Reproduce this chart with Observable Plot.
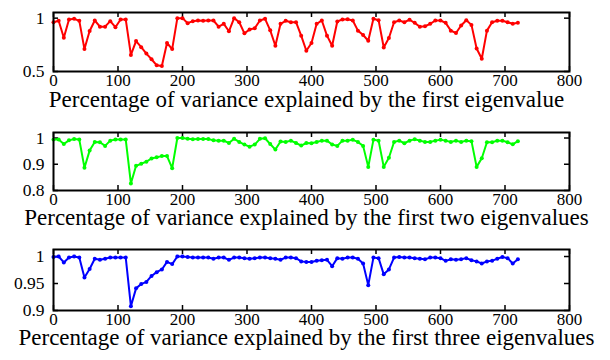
<!DOCTYPE html>
<html><head><meta charset="utf-8">
<script src="https://cdn.jsdelivr.net/npm/d3@7"></script>
<script src="https://cdn.jsdelivr.net/npm/@observablehq/plot@0.6"></script>
<style>
body{margin:0;background:#fff}
#c{width:610px;height:360px;overflow:hidden}
#c svg{display:block}
</style>
</head><body><div id="c"></div><script>
const xs = [0,8,16,24,32,40,48,56,64,72,80,88,96,104,112,120,128,136,144,152,160,168,176,184,192,200,208,216,224,232,240,248,256,264,272,280,288,296,304,312,320,328,336,344,352,360,368,376,384,392,400,408,416,424,432,440,448,456,464,472,480,488,496,504,512,520,528,536,544,552,560,568,576,584,592,600,608,616,624,632,640,648,656,664,672,680,688,696,704,712,720];

const firstOne = [0.962,0.975,0.817,0.988,0.994,0.975,0.71,0.88,0.978,0.92,0.92,0.972,0.915,0.988,0.988,0.655,0.785,0.728,0.668,0.615,0.558,0.551,0.767,0.71,1.0,1.0,0.953,0.972,0.978,0.975,0.978,0.978,0.92,0.947,0.877,1.0,0.962,0.858,0.893,0.905,0.978,0.994,0.886,0.741,0.947,0.975,0.962,0.962,0.836,0.694,0.767,0.947,0.978,0.836,0.741,0.969,0.988,0.99,0.978,0.883,0.842,0.788,0.994,0.981,0.725,0.814,0.962,0.978,0.962,0.985,0.956,0.92,0.924,0.947,0.978,0.978,0.956,0.883,0.861,0.931,0.981,0.937,0.716,0.62,0.883,0.962,0.975,0.975,0.962,0.947,0.956];

const firstTwo = [0.994,0.994,0.977,0.991,0.996,0.994,0.887,0.952,0.985,0.984,0.97,0.99,0.994,0.994,0.994,0.827,0.894,0.902,0.91,0.922,0.927,0.931,0.931,0.885,1.0,1.0,0.997,0.995,0.996,0.996,0.996,0.991,0.99,0.99,0.981,0.997,0.985,0.975,0.967,0.975,0.997,0.999,0.977,0.956,0.987,0.985,0.99,0.981,0.971,0.981,0.98,0.985,0.99,0.99,0.975,0.97,0.99,0.99,0.993,0.985,0.97,0.89,0.993,0.99,0.89,0.925,0.985,0.99,0.98,0.99,0.995,0.99,0.985,0.985,0.99,0.993,0.99,0.985,0.99,0.985,0.99,0.988,0.89,0.923,0.984,0.984,0.99,0.99,0.984,0.976,0.988];

const firstThree = [0.999,1.0,0.989,0.998,1.0,0.998,0.961,0.977,0.996,0.994,0.996,0.998,0.998,0.998,0.998,0.908,0.941,0.949,0.953,0.964,0.971,0.976,0.99,0.986,1.0,1.0,0.999,0.998,0.998,0.998,0.998,0.996,0.998,0.998,0.994,0.998,0.998,0.997,0.996,0.997,0.998,0.998,0.997,0.996,0.994,0.998,0.998,0.997,0.991,0.99,0.99,0.992,0.993,0.994,0.982,0.997,0.996,0.998,0.998,0.996,0.987,0.947,0.998,0.997,0.967,0.976,0.998,0.999,0.998,0.998,0.997,0.996,0.995,0.998,0.998,0.997,0.992,0.995,0.994,0.995,0.997,0.993,0.991,0.987,0.991,0.992,0.996,0.999,0.997,0.987,0.995];

const xTicks = [0,100,200,300,400,500,600,700,800];
const yTicks1 = [0.5,1];
const yTicks2 = [0.8,0.9,1];
const yTicks3 = [0.9,0.95,1];
const captions = [
  "Percentage of variance explained by the first eigenvalue",
  "Percentage of variance explained by the first two eigenvalues",
  "Percentage of variance explained by the first three eigenvalues"
];
const colors = ["#ff0000", "#00ff00", "#0000ff"];

const panels = [
  {values: firstOne, domain: [0.5, 1.053], yTicks: yTicks1, height: 120, top: 12, plotH: 59, capDy: 35},
  {values: firstTwo, domain: [0.8, 1.021], yTicks: yTicks2, height: 118, top: 12, plotH: 58, capDy: 34},
  {values: firstThree, domain: [0.9, 1.013], yTicks: yTicks3, height: 122, top: 11, plotH: 61, capDy: 34}
];

const FONT = "Liberation Serif";
const W = 610, ML = 53, MR = 41, TK = 5;
const plotW = W - ML - MR;

panels.forEach((p, k) => {
  const data = xs.map((x, i) => ({x, v: p.values[i]}));
  const color = colors[k];
  const chart = Plot.plot({
    width: W, height: p.height,
    marginLeft: ML, marginRight: MR, marginTop: p.top, marginBottom: p.height - p.top - p.plotH,
    style: {fontFamily: FONT, color: "black", background: "white", overflow: "visible"},
    x: {domain: [0, 800], axis: null},
    y: {domain: p.domain, axis: null},
    marks: [
      Plot.text(xTicks, {x: d => d, text: d => String(d), frameAnchor: "bottom", lineAnchor: "top", dy: 2.5, fontSize: 17, fontFamily: FONT, fill: "black"}),
      Plot.text(p.yTicks, {y: d => d, text: d => String(d), frameAnchor: "left", textAnchor: "end", dx: -9, fontSize: 17.5, fontFamily: FONT, fill: "black"}),
      Plot.ruleX(xTicks, {x: d => d, insetTop: p.plotH - TK, stroke: "black", strokeWidth: 1.5}),
      Plot.ruleX(xTicks, {x: d => d, insetBottom: p.plotH - TK, stroke: "black", strokeWidth: 1.5}),
      Plot.ruleY(p.yTicks, {y: d => d, insetRight: plotW - TK, stroke: "black", strokeWidth: 1.5}),
      Plot.ruleY(p.yTicks, {y: d => d, insetLeft: plotW - TK, stroke: "black", strokeWidth: 1.5}),
      Plot.line(data, {x: "x", y: "v", stroke: color, strokeWidth: 2}),
      Plot.dot(data, {x: "x", y: "v", r: 2, fill: color, stroke: "none"}),
      Plot.frame({stroke: "black", strokeWidth: 2}),
      Plot.text([captions[k]], {text: d => d, frameAnchor: "bottom", dy: p.capDy, dx: -5, fontSize: 23, fontFamily: FONT, fill: "black"})
    ]
  });
  document.getElementById("c").appendChild(chart);
});
</script></body></html>
